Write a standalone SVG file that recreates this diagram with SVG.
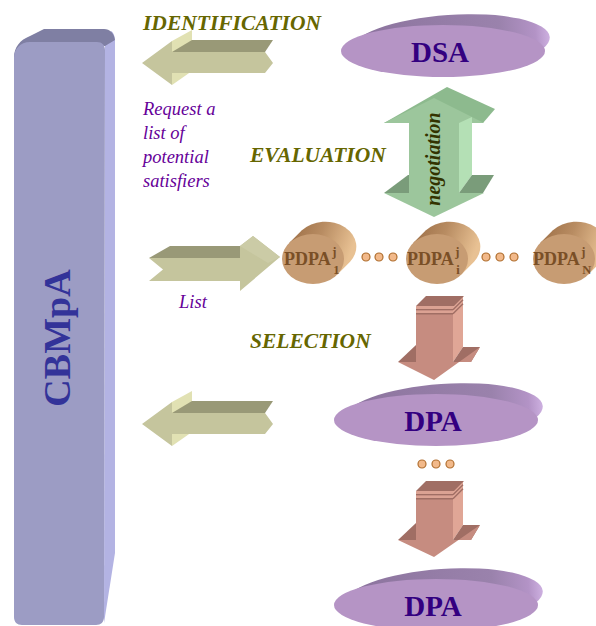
<svg xmlns="http://www.w3.org/2000/svg" width="596" height="626" viewBox="0 0 596 626">
<defs>
<style>
.serif{font-family:"Liberation Serif","Times New Roman",serif}
.lbl{font-weight:bold;font-style:italic;font-size:21.5px;fill:#666600}
.note{font-style:italic;font-size:18.5px;fill:#660099}
.big{font-weight:bold;font-size:29px;fill:#330080;text-anchor:middle}
.pd{font-weight:bold;font-size:18px;fill:#7a4f26}
.pds{font-weight:bold;font-size:12.5px;fill:#7a4f26}
.ofront{fill:#c5c59d}.otop{fill:#999977}.oside{fill:#e1e1b3}
.gfront{fill:#9cc69c}.gtop{fill:#8dba8e}.gside{fill:#b4e0b5}.gdark{fill:#7a9c7a}
.pfront{fill:#c68c80}.pside{fill:#e0a696}.pdark{fill:#a06e64}.pband{fill:#dba293}
.dot{fill:#f2b98a;stroke:#b06f30;stroke-width:1.2}
</style>
<linearGradient id="discBack" x1="0" y1="0" x2="1" y2="0">
<stop offset="0" stop-color="#8b739d"/><stop offset="0.75" stop-color="#9a82ac"/><stop offset="0.93" stop-color="#b393c6"/><stop offset="1" stop-color="#cdb0e0"/>
</linearGradient>
<linearGradient id="cylBody" x1="0" y1="0" x2="1" y2="0.3">
<stop offset="0" stop-color="#9a6c44"/><stop offset="0.5" stop-color="#b88c62"/><stop offset="1" stop-color="#e8c193"/>
</linearGradient>
<g id="disc">
<ellipse cx="450" cy="44" rx="100" ry="29" transform="rotate(-4 450 44)" fill="url(#discBack)"/>
<ellipse cx="443" cy="51" rx="102" ry="26" fill="#b594c5"/>
</g>
<g id="cyl">
<path d="M-24.1,-15.7 L-11.1,-28.7 A31,25 0 0 1 37.1,2.7 L24.1,15.7 Z" fill="url(#cylBody)"/>
<ellipse cx="0" cy="0" rx="31" ry="25" fill="#c79c73"/>
</g>
<g id="leftArrow">
<polygon class="oside" points="172,41 192,30 192,71 172,85"/>
<polygon class="otop" points="172,52 192,40 273,40 265,52"/>
<polygon class="ofront" points="142,63 172,41 172,52 265,52 273,63 265,73 172,73 172,85"/>
</g>
</defs>

<g id="cbmpa">
<path d="M105,44 L111,31 C114,33 115,37 115,42 L115,553 L104,623 Z" fill="#b3b3e3"/>
<path d="M14,58 C14,47 20,40 30,36 L44,29 L104,29 C110,29 114,33 115,40 L105,46 L30,42 Z" fill="#7f7fa3"/>
<path d="M14,58 C14,49 20,42 30,42 L97,42 C102,42 105,45 105,50 L104,617 C104,622 101,625 96,625 L22,625 C17,625 14,622 14,617 Z" fill="#9c9cc4"/>
<text class="serif" x="70" y="338" transform="rotate(-90 70 338)" text-anchor="middle" font-weight="bold" font-size="38" fill="#333399">CBMpA</text>
</g>

<g id="connectors">
<use id="identification-arrow" href="#leftArrow"/>
<use id="result-arrow" href="#leftArrow" transform="translate(0,361)"/>
<g id="list-arrow">
<polygon class="ofront" points="149,258 240,258 240,246 253,236 280,257 240,291 240,281 149,281 163,269.5"/>
<polygon fill="#cbcba6" points="240,246 253,236 280,257 268,263"/>
<polygon class="otop" points="149,258 170,246 240,246 240,258"/>
</g>
<g id="negotiation-arrow">
<polygon class="gtop" points="384,123 447,87 495,109 483,123"/>
<polygon class="gfront" points="384,123 434,98 484,123"/>
<rect class="gfront" x="409" y="122" width="50" height="72"/>
<polygon class="gside" points="459,123 472,117 472,175 459,193"/>
<polygon class="gdark" points="459,193 472,175 494,175 483,193"/>
<polygon class="gdark" points="384,193 408,175 409,175 409,193"/>
<polygon class="gfront" points="384,193 484,193 434,217"/>
<text class="serif" x="440" y="159" transform="rotate(-90 440 159)" text-anchor="middle" font-weight="bold" font-style="italic" font-size="20" fill="#333300">negotiation</text>
</g>
<g id="selection-arrow">
<polygon class="pside" points="453,306 463,296 463,347 453,362"/>
<rect class="pfront" x="416" y="306" width="37" height="57"/>
<polygon class="pdark" points="416,306 426,296 464,296 454,306"/>
<rect class="pband" x="416" y="306" width="37" height="3"/>
<rect class="pdark" x="416" y="309" width="37" height="1.5"/>
<rect class="pband" x="416" y="310.5" width="37" height="2.5"/>
<rect class="pdark" x="416" y="313" width="37" height="1.5"/>
<polyline points="453,309.8 463,299.8" stroke="#a06e64" stroke-width="1.5" fill="none"/>
<polyline points="453,313.8 463,303.8" stroke="#a06e64" stroke-width="1.5" fill="none"/>
<polygon class="pdark" points="398,362 416,345 416,362"/>
<polygon class="pdark" points="453,362 463,347 480,347 471,362"/>
<polygon class="pfront" points="398,362 471,362 480,347 434,380"/>
</g>
<g id="next-arrow">
<polygon class="pside" points="453,491 463,481 463,525 453,540"/>
<rect class="pfront" x="416" y="491" width="37" height="50"/>
<polygon class="pdark" points="416,491 426,481 464,481 454,491"/>
<rect class="pband" x="416" y="491" width="37" height="3"/>
<rect class="pdark" x="416" y="494" width="37" height="1.5"/>
<rect class="pband" x="416" y="495.5" width="37" height="2.5"/>
<rect class="pdark" x="416" y="498" width="37" height="1.5"/>
<polyline points="453,494.8 463,484.8" stroke="#a06e64" stroke-width="1.5" fill="none"/>
<polyline points="453,498.8 463,488.8" stroke="#a06e64" stroke-width="1.5" fill="none"/>
<polygon class="pdark" points="398,540 416,523 416,540"/>
<polygon class="pdark" points="453,540 463,525 480,525 471,540"/>
<polygon class="pfront" points="398,540 471,540 480,525 434,557"/>
</g>
</g>

<g id="dsa">
<use href="#disc"/>
<text class="serif big" x="440" y="62">DSA</text>
</g>
<g id="dpa1">
<use href="#disc" transform="translate(-7,369)"/>
<text class="serif big" x="433" y="431">DPA</text>
</g>
<g id="dpa2">
<use href="#disc" transform="translate(-7,554)"/>
<text class="serif big" x="433" y="616">DPA</text>
</g>

<g id="pdpa1">
<use href="#cyl" transform="translate(313,259)"/>
<text class="serif pd" x="284" y="265">PDPA<tspan class="pds" dx="1.5" dy="-9">j</tspan><tspan class="pds" dx="-3" dy="18">1</tspan></text>
</g>
<g id="pdpai">
<use href="#cyl" transform="translate(437,259)"/>
<text class="serif pd" x="407" y="265">PDPA<tspan class="pds" dx="1.5" dy="-9">j</tspan><tspan class="pds" dx="-3" dy="18">i</tspan></text>
</g>
<g id="pdpaN">
<use href="#cyl" transform="translate(564,259)"/>
<text class="serif pd" x="533" y="265">PDPA<tspan class="pds" dx="1.5" dy="-9">j</tspan><tspan class="pds" dx="-3" dy="18">N</tspan></text>
</g>

<g id="ellipses">
<circle class="dot" cx="366" cy="257" r="4"/><circle class="dot" cx="379" cy="257" r="4"/><circle class="dot" cx="393" cy="257" r="4"/>
<circle class="dot" cx="486" cy="257" r="4"/><circle class="dot" cx="500" cy="257" r="4"/><circle class="dot" cx="514" cy="257" r="4"/>
<circle class="dot" cx="422" cy="464" r="4"/><circle class="dot" cx="436" cy="464" r="4"/><circle class="dot" cx="450" cy="464" r="4"/>
</g>

<g id="labels">
<text class="serif lbl" x="143" y="30">IDENTIFICATION</text>
<text class="serif lbl" x="250" y="162">EVALUATION</text>
<text class="serif lbl" x="250" y="348">SELECTION</text>
<text class="serif note" x="143" y="115">Request a</text>
<text class="serif note" x="143" y="139">list of</text>
<text class="serif note" x="143" y="163">potential</text>
<text class="serif note" x="143" y="187">satisfiers</text>
<text class="serif note" x="179" y="308">List</text>
</g>
</svg>
